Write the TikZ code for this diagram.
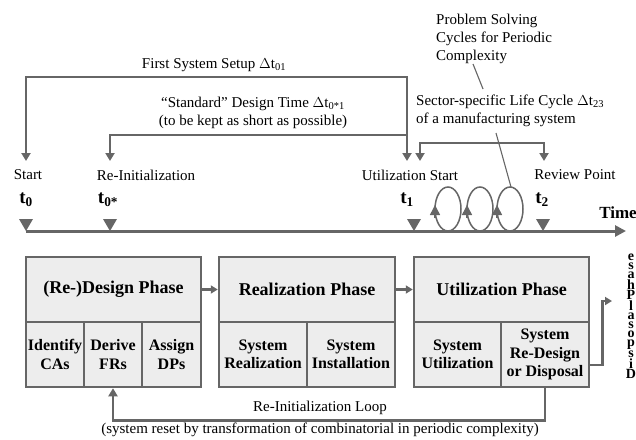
\documentclass[tikz,border=0pt]{standalone}
\usepackage{fontspec}
\setmainfont{Liberation Serif}
\usetikzlibrary{arrows.meta,calc}
\definecolor{lc}{HTML}{666666}
\definecolor{bf}{HTML}{EDEDED}
\begin{document}
\begin{tikzpicture}[x=1pt,y=-1pt,
  lbl/.style={font=\fontsize{15}{18}\selectfont, inner sep=0, text=black},
  tl/.style={font=\bfseries\fontsize{19}{21}\selectfont, inner sep=0},
  phase/.style={draw=lc, line width=2.5pt, fill=bf, inner sep=0, font=\bfseries\fontsize{18}{20}\selectfont, align=center, minimum height=65pt},
  subbox/.style={draw=lc, line width=2.5pt, fill=bf, inner sep=0, font=\bfseries\fontsize{16}{18.5}\selectfont, align=center, minimum height=65pt},
  conn/.style={draw=lc, line width=2.2pt},
  tip/.style={-{Triangle[width=9pt,length=8pt]}},
  btip/.style={{Triangle[width=9pt,length=8pt]}-{Triangle[width=9pt,length=8pt]}},
  marker/.style={fill=lc},
  loopl/.style={draw=lc, line width=1.5pt},
  leader/.style={draw=lc, line width=1.1pt}
]
\useasboundingbox (0,0) rectangle (636,439);

% ---------- timeline ----------
\coordinate (tls) at (26,231);
\coordinate (tle) at (626,231);
\draw[lc, line width=3pt, -{Triangle[width=11pt,length=11pt]}] (tls) -- (tle);
\node[font=\bfseries\fontsize{17}{19}\selectfont, inner sep=0] (time) at (618,213) {Time};

\foreach \x/\n in {26/m0,110/m0s,414/m1,543/m2}{
  \fill[marker] (\x-7,219) -- (\x+7,219) -- (\x,231) -- cycle;
}

% ---------- time point labels ----------
\node[lbl] (start) at (28,175) {Start};
\node[lbl] (reinit) at (146,175) {Re-Initialization};
\node[lbl] (ustart) at (410,175) {Utilization Start};
\node[lbl] (review) at (575,175) {Review Point};
\node[tl] (t0) at (26,200) {t\textsubscript{0}};
\node[tl] (t0s) at (108,200) {t\textsubscript{0*}};
\node[tl] (t1) at (407,200) {t\textsubscript{1}};
\node[tl] (t2) at (542,200) {t\textsubscript{2}};

% ---------- top brackets ----------
\coordinate (a0) at (26,161);
\coordinate (a0s) at (110,161);
\coordinate (a1) at (407,161);
\coordinate (a1b) at (420,161);
\coordinate (a2) at (544,161);
\coordinate (fs) at (407,77);
\coordinate (sd) at (407,135);
\coordinate (sc) at (544,143);

\draw[conn, btip] (a0) |- (fs) -- (a1);
\draw[conn, tip] (sd) -| (a0s);
\draw[conn, btip] (a1b) |- (sc) -- (a2);

\node[lbl] (fsl) at (214,65) {First System Setup $\Delta$t\textsubscript{01}};
\node[lbl, align=center] (sdl) at (253,113) {\char"201CStandard\char"201D{} Design Time $\Delta$t\textsubscript{0*1}\\(to be kept as short as possible)};
\node[lbl, align=left, anchor=west] (scl) at (416,111) {Sector-specific Life Cycle $\Delta$t\textsubscript{23}\\of a manufacturing system};
\node[lbl, align=left, anchor=west] (psl) at (436,39) {Problem Solving\\Cycles for Periodic\\Complexity};

% ---------- loops ----------
\foreach \cx/\n in {448/l1,480/l2,510/l3}{
  \draw[loopl] (\cx,209) ellipse [x radius=13, y radius=22];
  \draw[lc, line width=1.5pt, -{Triangle[width=10pt,length=10pt]}] (\cx-13,218) -- (\cx-13,205);
}
\coordinate (ld1) at (473,64);
\coordinate (ld2) at (483,89);
\coordinate (ld3) at (496,133);
\coordinate (ld4) at (511,187);
\draw[leader] (ld1) -- (ld2);
\draw[leader] (ld3) -- (ld4);

% ---------- phase boxes ----------
\node[phase, minimum width=175pt] (des) at (113.5,289.5) {(Re-)Design Phase};
\node[subbox, minimum width=58pt] (ica) at (55,354.5) {Identify\\CAs};
\node[subbox, minimum width=58pt] (dfr) at (113,354.5) {Derive\\FRs};
\node[subbox, minimum width=59pt] (adp) at (171.5,354.5) {Assign\\DPs};

\node[phase, minimum width=176pt] (rea) at (307,289.5) {Realization Phase};
\node[subbox, minimum width=88pt] (sre) at (263,354.5) {System\\Realization};
\node[subbox, minimum width=88pt] (sin) at (351,354.5) {System\\Installation};

\node[phase, minimum width=175pt] (uti) at (501.5,289.5) {Utilization Phase};
\node[subbox, minimum width=87pt] (sut) at (457.5,354.5) {System\\Utilization};
\node[subbox, minimum width=88pt] (rd) at (545,354.5) {System\\Re-Design\\or Disposal};

\draw[conn, line width=2.5pt, -{Triangle[width=8pt,length=7pt]}] (des.east) -- (rea.west);
\draw[conn, line width=2.5pt, -{Triangle[width=8pt,length=7pt]}] (rea.east) -- (uti.west);

% ---------- disposal ----------
\node[font=\bfseries\fontsize{14}{9.1}\selectfont, align=center, inner sep=0] (disp) at (631,316)
  {e\\s\\a\\h\\P\\l\\a\\s\\o\\p\\s\\i\\D};
\coordinate (dispin) at (612,301);
\draw[conn, line width=2.5pt, -{Triangle[width=8pt,length=7pt]}] ([yshift=-10.5pt]rd.east) -- ++(12,0) |- (dispin);

% ---------- re-initialization loop ----------
\draw[conn, line width=2.5pt, -{Triangle[width=9pt,length=8pt]}] (rd.south) -- ++(0,32) -| (dfr.south);
\node[lbl] (ril) at (320,408) {Re-Initialization Loop};
\node[lbl] (rils) at (320,430) {(system reset by transformation of combinatorial in periodic complexity)};
\end{tikzpicture}
\end{document}
